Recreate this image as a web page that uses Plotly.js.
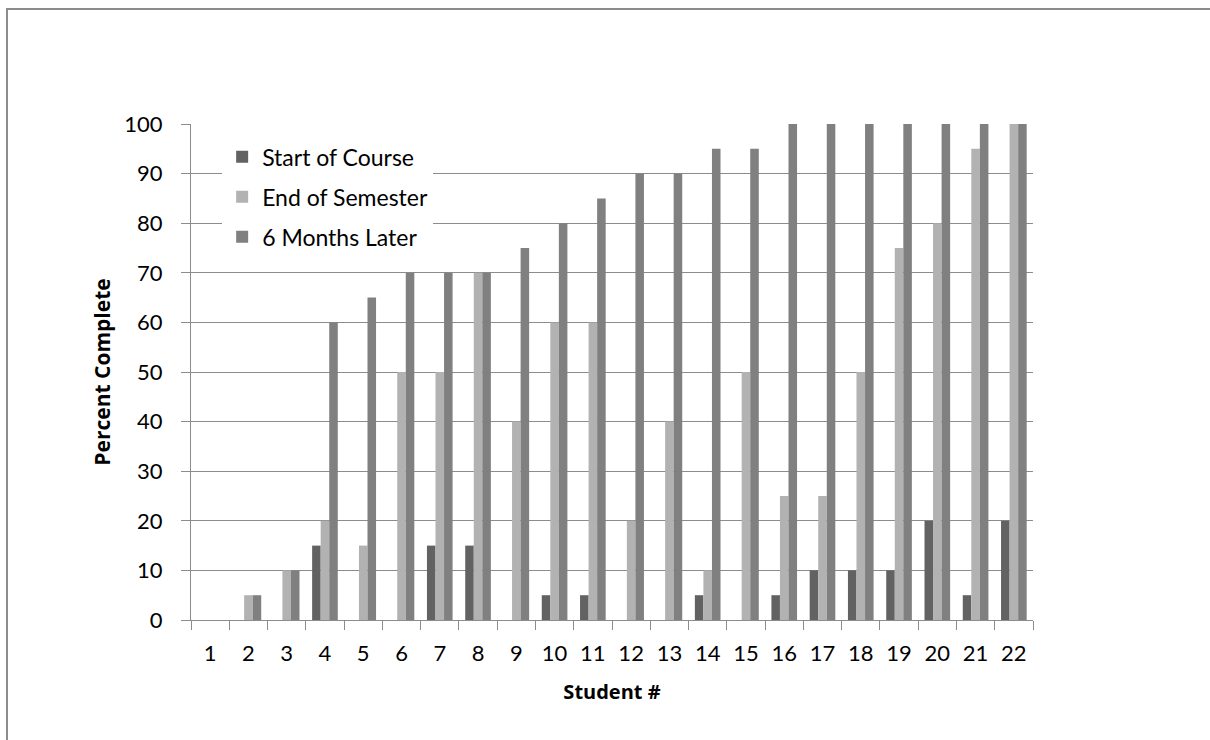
<!DOCTYPE html>
<html>
<head>
<meta charset="utf-8">
<script src="https://cdn.plot.ly/plotly-3.0.1.min.js"></script>
<style>
  html, body { margin: 0; padding: 0; width: 1210px; height: 740px; overflow: hidden; background: #fff; }
  #frame { position: absolute; left: 6px; top: 8px; width: 1300px; height: 800px; border-left: 2px solid #8c8c8c; border-top: 2px solid #8c8c8c; pointer-events: none; z-index: 5; }
  #chart { position: absolute; left: 0; top: 0; width: 1210px; height: 740px; }
</style>
</head>
<body>
<div id="chart"></div>
<div id="frame"></div>
<script>
const students = ["1","2","3","4","5","6","7","8","9","10","11","12","13","14","15","16","17","18","19","20","21","22"];
const startOfCourse = [0,0,0,15,0,0,15,15,0,5,5,0,0,5,0,5,10,10,10,20,5,20];
const endOfSemester = [0,5,10,20,15,50,50,70,40,60,60,20,40,10,50,25,25,50,75,80,95,100];
const sixMonthsLater = [0,5,10,60,65,70,70,70,75,80,85,90,90,95,95,100,100,100,100,100,100,100];
const seriesNames = ["Start of Course", "End of Semester", "6 Months Later"];
const seriesColors = ["#626262", "#b2b2b2", "#808080"];
const yTicks = [0,10,20,30,40,50,60,70,80,90,100];

const FONT = "Lato, 'Open Sans', sans-serif";
const TITLE_FONT = "'Open Sans', Lato, sans-serif";
const values = [startOfCourse, endOfSemester, sixMonthsLater];
const traces = values.map((v, i) => ({
  type: "bar",
  x: students,
  y: v,
  name: seriesNames[i],
  legendgroup: "g" + i,
  marker: { color: seriesColors[i], line: { width: 0 } },
  hoverinfo: "x+y+name"
}));

const layout = {
  width: 1210,
  height: 740,
  paper_bgcolor: "#ffffff",
  plot_bgcolor: "#ffffff",
  margin: { l: 191, r: 177, t: 124, b: 120, pad: 0 },
  barmode: "group",
  bargap: 0.33,
  bargroupgap: 0,
  font: { family: FONT, size: 22, color: "#000" },
  showlegend: true,
  legend: {
    x: 0.037, y: 0.977, xanchor: "left", yanchor: "top",
    bgcolor: "#ffffff",
    borderwidth: 0,
    font: { family: FONT, size: 23, color: "#000" },
    traceorder: "grouped",
    tracegroupgap: 7,
    itemwidth: 30
  },
  xaxis: {
    type: "category",
    tickvals: students,
    ticktext: students,
    showgrid: false,
    showline: true,
    linecolor: "#8c8c8c",
    linewidth: 1,
    ticks: "outside",
    tickson: "boundaries",
    ticklen: 9,
    tickcolor: "#8c8c8c",
    tickfont: { family: FONT, size: 22, color: "#000" },
    ticklabelstandoff: 14,
    title: { text: "<b>Student #</b>", font: { family: TITLE_FONT, size: 20, color: "#000" }, standoff: 19 },
    zeroline: false
  },
  yaxis: {
    range: [0, 100],
    tickvals: yTicks,
    ticktext: yTicks.map(String),
    showgrid: true,
    gridcolor: "#8c8c8c",
    gridwidth: 1,
    showline: true,
    linecolor: "#8c8c8c",
    linewidth: 1,
    ticks: "outside",
    ticklen: 9,
    tickcolor: "#8c8c8c",
    tickfont: { family: FONT, size: 22, color: "#000" },
    ticklabelstandoff: 14,
    title: { text: "<b>Percent Complete</b>", font: { family: TITLE_FONT, size: 21, color: "#000" }, standoff: 7 },
    zeroline: false
  }
};

Plotly.newPlot("chart", traces, layout, { displayModeBar: false, staticPlot: true });
</script>
</body>
</html>
